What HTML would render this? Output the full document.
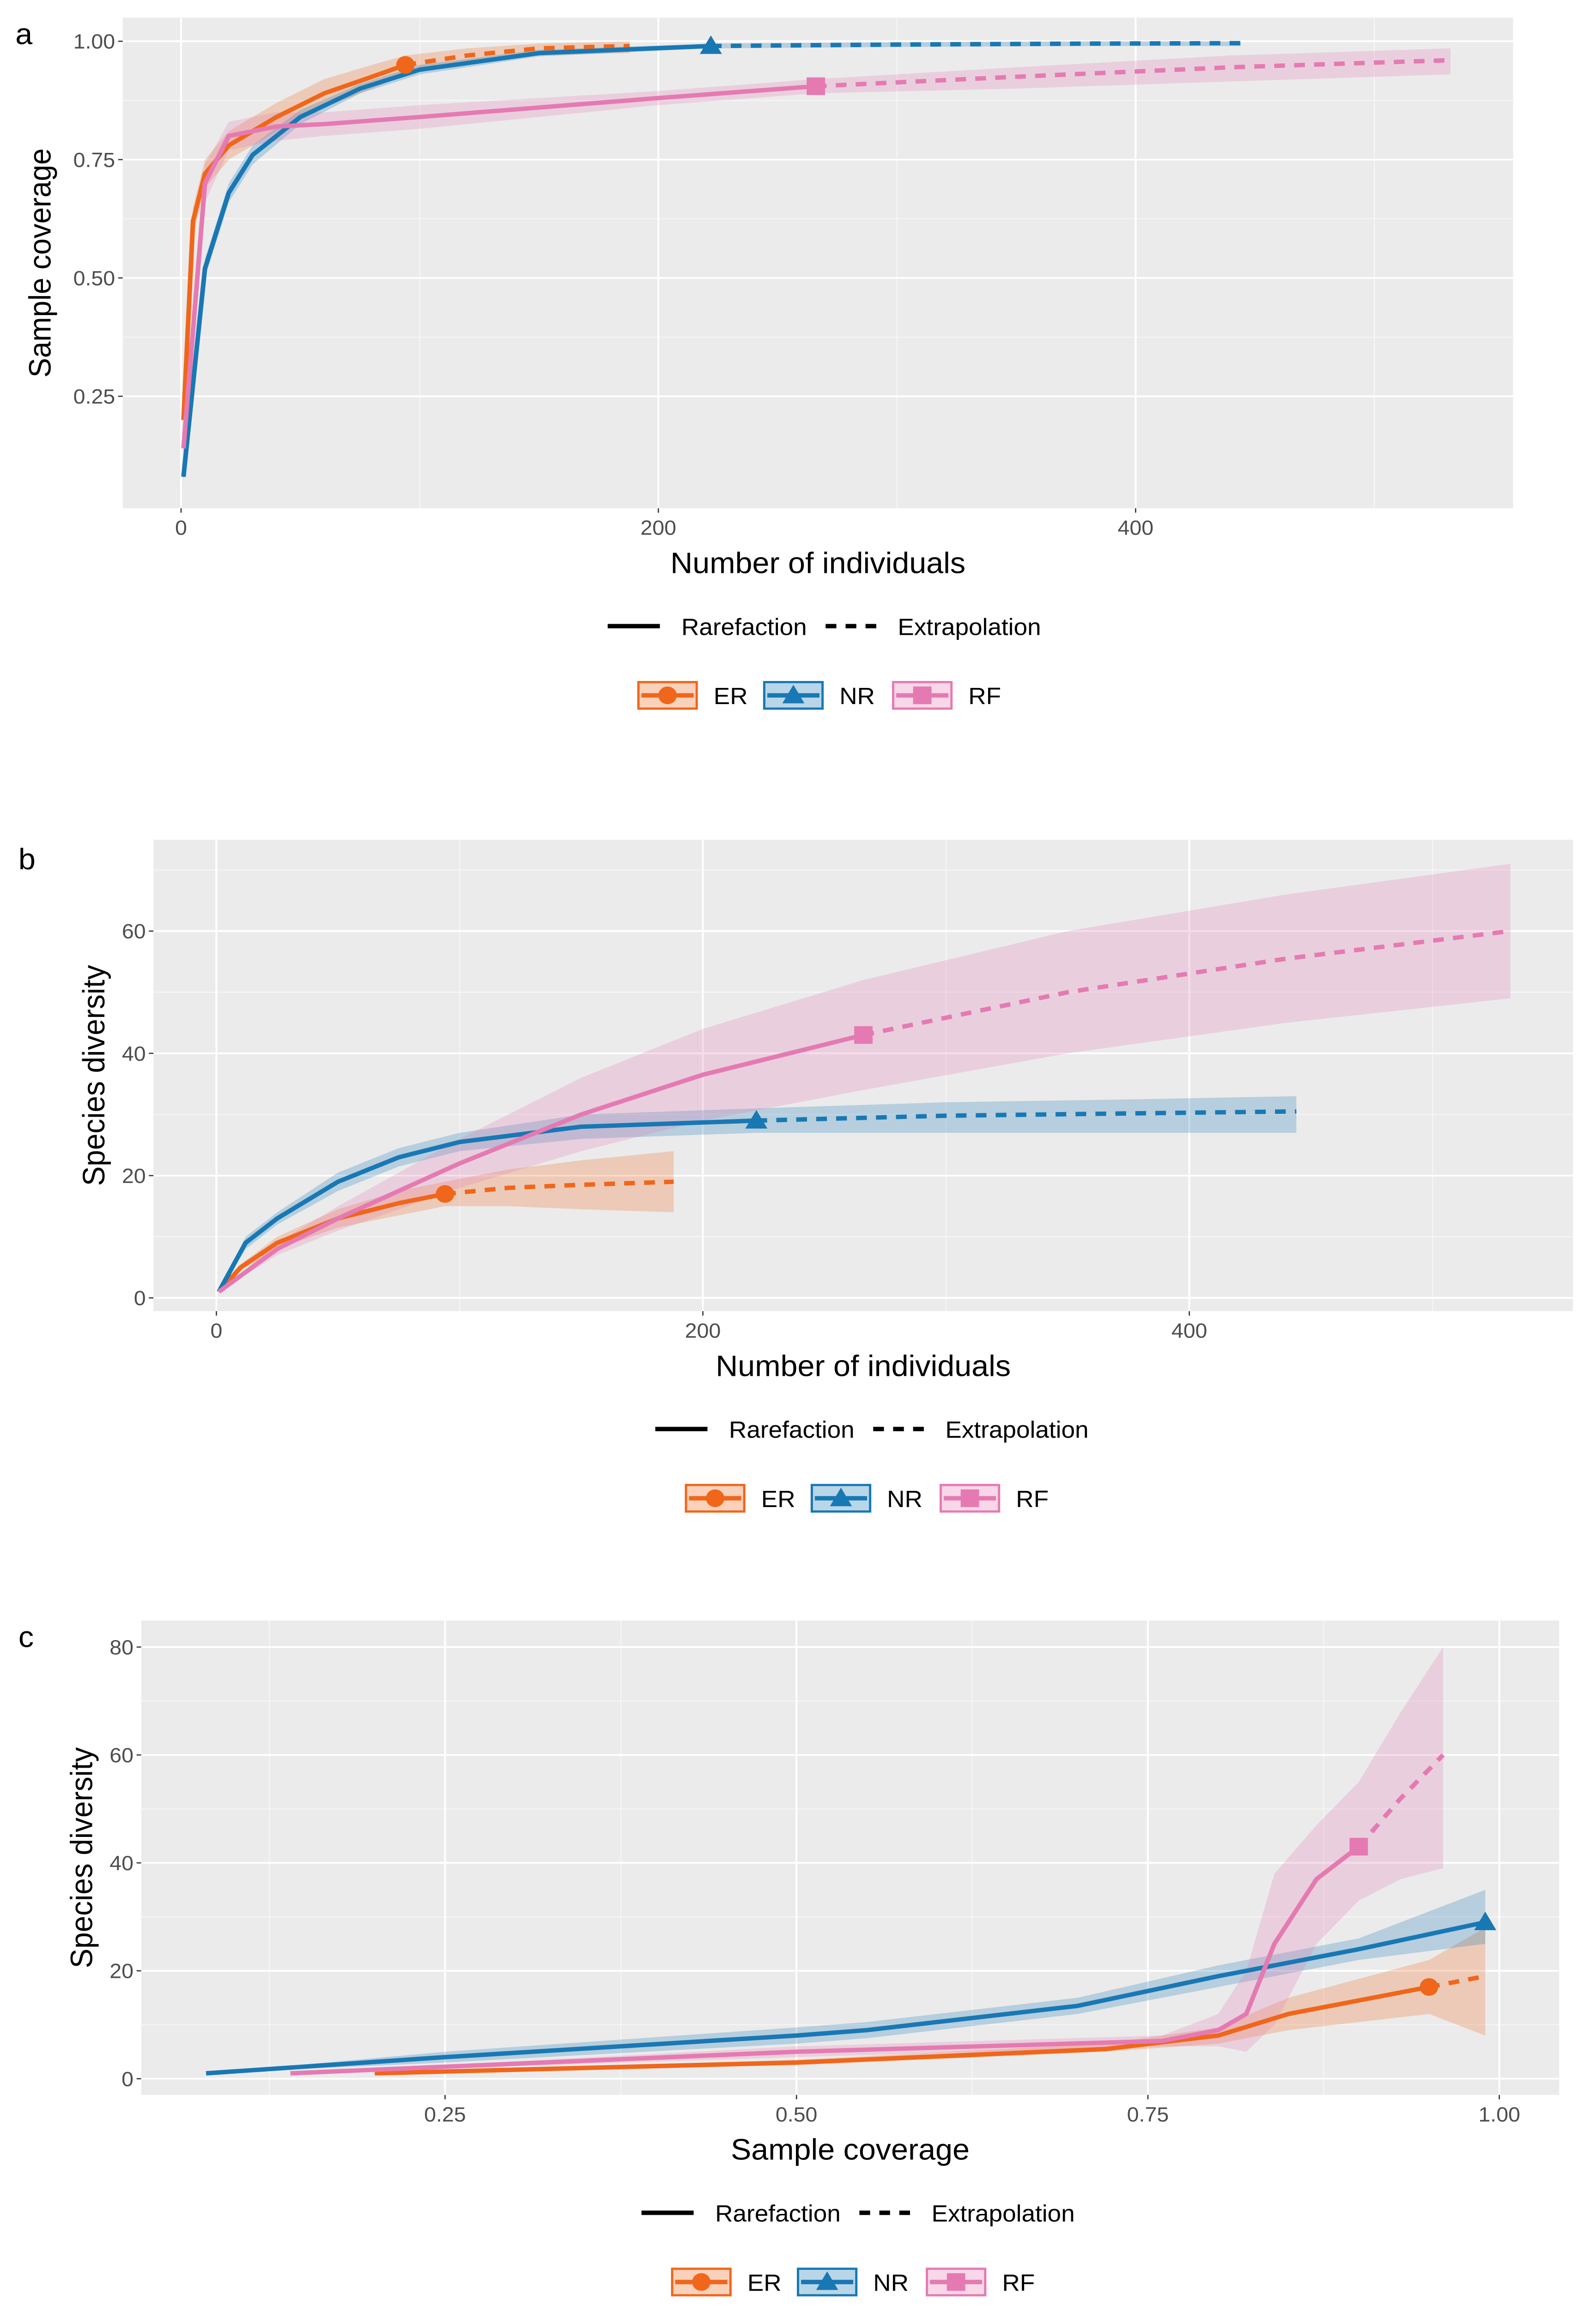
<!DOCTYPE html>
<html><head><meta charset="utf-8"><style>
html,body{margin:0;padding:0;background:#fff;width:100%;height:100%;overflow:hidden;}
svg{display:block;width:100vw;height:100vh;font-family:"Liberation Sans",Arial,sans-serif;}
</style></head><body>
<svg id="chart" viewBox="0 0 1040 1568" preserveAspectRatio="none" xmlns="http://www.w3.org/2000/svg"></svg>
<script>
// ---------- Panel a data (sample coverage vs individuals) ----------
const aTicksX = [0, 200, 400];
const aTicksY = [0.25, 0.50, 0.75, 1.00];
const aTickLabelsY = ["0.25", "0.50", "0.75", "1.00"];
const aER_x = [1,5,10,20,40,60,80,94,120,150,188];
const aER_y = [0.2,0.62,0.72,0.78,0.84,0.89,0.925,0.95,0.97,0.985,0.99];
const aER_lo = [0.19,0.59,0.69,0.75,0.81,0.86,0.9,0.93,0.95,0.97,0.975];
const aER_hi = [0.21,0.65,0.75,0.81,0.87,0.92,0.95,0.97,0.985,0.995,1.0];
const aNR_x = [1,10,20,30,50,75,100,150,222,300,380,444];
const aNR_y = [0.08,0.52,0.68,0.76,0.84,0.9,0.94,0.975,0.99,0.993,0.995,0.996];
const aNR_lo = [0.07,0.5,0.66,0.74,0.825,0.89,0.93,0.968,0.985,0.988,0.99,0.99];
const aNR_hi = [0.09,0.54,0.7,0.78,0.855,0.91,0.95,0.982,0.995,0.998,1,1];
const aRF_x = [1,10,20,40,60,100,150,200,266,350,440,532];
const aRF_y = [0.14,0.7,0.8,0.82,0.825,0.84,0.86,0.88,0.905,0.925,0.945,0.96];
const aRF_lo = [0.12,0.66,0.77,0.79,0.8,0.815,0.84,0.865,0.89,0.9,0.915,0.93];
const aRF_hi = [0.16,0.74,0.83,0.85,0.85,0.865,0.88,0.895,0.92,0.945,0.97,0.985];
const aObs = [7, 8, 8];
// ---------- Panel b data (species diversity vs individuals) ----------
const bTicksX = [0, 200, 400];
const bTicksY = [0, 20, 40, 60];
const bER_x = [1,10,25,50,75,94,120,150,188];
const bER_y = [1,5,9,13,15.5,17,18,18.5,19];
const bER_lo = [1,4.5,8,11.5,13.5,15,15,14.5,14];
const bER_hi = [1,5.5,10,14.5,17.5,19,21,22.5,24];
const bNR_x = [1,12,25,50,75,100,150,222,300,380,444];
const bNR_y = [1,9,13,19,23,25.5,28,29,29.8,30.2,30.5];
const bNR_lo = [1,8,12,17.5,21.5,24,26,27,27,27,27];
const bNR_hi = [1,10,14,20.5,24.5,27,30,31,32,32.5,33];
const bRF_x = [1,25,50,100,150,200,266,350,440,532];
const bRF_y = [1,8,13,22,30,36.5,43,50,55.5,60];
const bRF_lo = [1,7,11,18,24,29,34,40,45,49];
const bRF_hi = [1,9,15,26,36,44,52,60,66,71];
const bObs = [5, 7, 6];
// ---------- Panel c data (species diversity vs sample coverage) ----------
const cTicksX = [0.25, 0.50, 0.75, 1.00];
const cTickLabelsX = ["0.25", "0.50", "0.75", "1.00"];
const cTicksY = [0, 20, 40, 60, 80];
const cER_x = [0.2,0.5,0.72,0.8,0.85,0.95,0.97,0.99];
const cER_y = [1,3,5.5,8,12,17,18,19];
const cER_lo = [1,2.5,5,6.5,9,12,10,8];
const cER_hi = [1,3.5,6.5,9.5,15,22,25,28];
const cNR_x = [0.08,0.25,0.5,0.55,0.7,0.8,0.9,0.99];
const cNR_y = [1,4,8,9,13.5,19,24,29];
const cNR_lo = [1,3,6.5,7.5,12,17,22,25];
const cNR_hi = [1,5,9.5,10.5,15,21,26,35];
const cRF_x = [0.14,0.5,0.76,0.8,0.82,0.84,0.87,0.9,0.93,0.96];
const cRF_y = [1,5,7,9,12,25,37,43,52,60];
const cRF_lo = [1,4,6,6,5,10,25,33,37,39];
const cRF_hi = [1,6,8,12,20,38,47,55,68,80];
const cObs = [5, 7, 7];

const seriesNames = ["ER", "NR", "RF"];
const COLORS = {ER:"#F0661A", NR:"#1878B4", RF:"#E57AB2"};
const NS = "http://www.w3.org/2000/svg";
const svg = document.getElementById("chart");
function mk(tag, attrs, parent){
  const e = document.createElementNS(NS, tag);
  for (const k in attrs) e.setAttribute(k, attrs[k]);
  (parent||svg).appendChild(e);
  return e;
}
function lin(d0,d1,r0,r1){ return v => r0 + (v-d0)*(r1-r0)/(d1-d0); }

function marker(g, name, cx, cy, r){
  const c = COLORS[name];
  let m;
  if (name==="ER") m = mk("circle",{cx:cx,cy:cy,r:r,fill:c},g);
  else if (name==="NR") m = mk("polygon",{points:`${cx},${cy-r*1.2} ${cx-r*1.2},${cy+r*0.9} ${cx+r*1.2},${cy+r*0.9}`,fill:c},g);
  else m = mk("rect",{x:cx-r,y:cy-r,width:2*r,height:2*r,fill:c},g);
  return m;
}

function panel(cfg){
  const g = mk("g",{});
  
  
  const X = cfg.sx, Y = cfg.sy;
  const bg = mk("rect",{x:cfg.L,y:cfg.T,width:cfg.R-cfg.L,height:cfg.B-cfg.T,fill:"#EBEBEB"},g);
  
  
  cfg.minorX.forEach(v=>{ mk("line",{x1:X(v),x2:X(v),y1:cfg.T,y2:cfg.B,stroke:"#F7F7F7","stroke-width":0.6},g); });
  cfg.minorY.forEach(v=>{ mk("line",{x1:cfg.L,x2:cfg.R,y1:Y(v),y2:Y(v),stroke:"#F7F7F7","stroke-width":0.6},g); });
  cfg.ticksX.forEach((v,i)=>{
    mk("line",{x1:X(v),x2:X(v),y1:cfg.T,y2:cfg.B,stroke:"#fff","stroke-width":1.2},g);
    mk("line",{x1:X(v),x2:X(v),y1:cfg.B,y2:cfg.B+3,stroke:"#333","stroke-width":0.8},g);
    const t = mk("text",{x:X(v),y:cfg.B+18,"text-anchor":"middle","font-size":14,fill:"#4D4D4D"},g);
    t.textContent = cfg.labX[i];
    
    
  });
  cfg.ticksY.forEach((v,i)=>{
    mk("line",{x1:cfg.L,x2:cfg.R,y1:Y(v),y2:Y(v),stroke:"#fff","stroke-width":1.2},g);
    mk("line",{x1:cfg.L-3,x2:cfg.L,y1:Y(v),y2:Y(v),stroke:"#333","stroke-width":0.8},g);
    const t = mk("text",{x:cfg.L-5,y:Y(v)+5,"text-anchor":"end","font-size":14,fill:"#4D4D4D"},g);
    t.textContent = cfg.labY[i];
    
    
  });
  cfg.series.forEach(s=>{
    let d = s.x.map((v,i)=>`${i?"L":"M"}${X(v)},${Y(s.hi[i])}`).join(" ");
    for (let i=s.x.length-1;i>=0;i--) d += ` L${X(s.x[i])},${Y(s.lo[i])}`;
    const p = mk("path",{d:d+" Z",fill:COLORS[s.n],"fill-opacity":0.25},g);
    
    
  });
  cfg.series.forEach(s=>{
    const rare = s.x.slice(0,s.obs+1).map((v,i)=>`${X(v)},${Y(s.y[i])}`).join(" ");
    const ext = s.x.slice(s.obs).map((v,i)=>`${X(v)},${Y(s.y[i+s.obs])}`).join(" ");
    const l1 = mk("polyline",{points:rare,fill:"none",stroke:COLORS[s.n],"stroke-width":3,"stroke-linejoin":"round"},g);
    
    
    const l2 = mk("polyline",{points:ext,fill:"none",stroke:COLORS[s.n],"stroke-width":3,"stroke-dasharray":"7,6"},g);
    
    
  });
  cfg.series.forEach(s=>{
    const m = marker(g, s.n, X(s.x[s.obs]), Y(s.y[s.obs]), 6);
    
    
  });
  const xt = mk("text",{x:(cfg.L+cfg.R)/2,y:cfg.B+44,"text-anchor":"middle","font-size":20,fill:"#000"},g);
  xt.textContent = cfg.xTitle;
  
  
  const ymid = (cfg.T+cfg.B)/2;
  const yt = mk("text",{x:cfg.yTitleX,y:ymid,"text-anchor":"middle","font-size":20,fill:"#000",transform:`rotate(-90 ${cfg.yTitleX} ${ymid})`},g);
  yt.textContent = cfg.yTitle;
  
  
  const pl = mk("text",{x:cfg.letterX,y:cfg.letterY,"font-size":20,fill:"#000"},g);
  pl.textContent = cfg.letter;
  
  
  const lx = cfg.legX, ly1 = cfg.B+80, ly2 = cfg.B+127;
  const lg = mk("g",{},g);
  
  
  mk("line",{x1:lx,x2:lx+34,y1:ly1,y2:ly1,stroke:"#000","stroke-width":3},lg);
  let t = mk("text",{x:lx+48,y:ly1+6,"font-size":16},lg); t.textContent="Rarefaction";
  mk("line",{x1:lx+142,x2:lx+176,y1:ly1,y2:ly1,stroke:"#000","stroke-width":3,"stroke-dasharray":"7,6"},lg);
  t = mk("text",{x:lx+189,y:ly1+6,"font-size":16},lg); t.textContent="Extrapolation";
  const offs = [20, 102, 186];
  seriesNames.forEach((n,i)=>{
    const e = mk("g",{},g);
    
    
    const x = lx+offs[i];
    mk("rect",{x:x,y:ly2-9,width:38,height:18,fill:COLORS[n],"fill-opacity":0.3,stroke:COLORS[n],"stroke-width":1.5},e);
    mk("line",{x1:x+2,x2:x+36,y1:ly2,y2:ly2,stroke:COLORS[n],"stroke-width":3},e);
    marker(e, n, x+19, ly2, 6);
    const tt = mk("text",{x:x+49,y:ly2+6,"font-size":16},e); tt.textContent = n;
  });
}

function mkSeries(names, xs, ys, los, his, obs){
  return names.map((n,i)=>({n:n,x:xs[i],y:ys[i],lo:los[i],hi:his[i],obs:obs[i]}));
}

panel({name:"panel-a-coverage", L:80,R:986,T:12,B:345,
  sx:lin(0,400,118,740), sy:lin(0.25,1,269,28),
  ticksX:aTicksX, labX:aTicksX.map(String), ticksY:aTicksY, labY:aTickLabelsY,
  minorX:[100,300,500], minorY:[0.375,0.625,0.875],
  series:mkSeries(seriesNames,[aER_x,aNR_x,aRF_x],[aER_y,aNR_y,aRF_y],[aER_lo,aNR_lo,aRF_lo],[aER_hi,aNR_hi,aRF_hi],aObs),
  xTitle:"Number of individuals", yTitle:"Sample coverage", yTitleX:33,
  letter:"a", letterX:10, letterY:30, legX:396});

panel({name:"panel-b-diversity", L:100,R:1025,T:570,B:890,
  sx:lin(0,400,141,775), sy:lin(0,60,881,632),
  ticksX:bTicksX, labX:bTicksX.map(String), ticksY:bTicksY, labY:bTicksY.map(String),
  minorX:[100,300,500], minorY:[10,30,50,70],
  series:mkSeries(seriesNames,[bER_x,bNR_x,bRF_x],[bER_y,bNR_y,bRF_y],[bER_lo,bNR_lo,bRF_lo],[bER_hi,bNR_hi,bRF_hi],bObs),
  xTitle:"Number of individuals", yTitle:"Species diversity", yTitleX:68,
  letter:"b", letterX:12, letterY:590, legX:427});

panel({name:"panel-c-coverage-diversity", L:92,R:1016,T:1100,B:1422,
  sx:lin(0.25,1,290,977), sy:lin(0,80,1411,1118),
  ticksX:cTicksX, labX:cTickLabelsX, ticksY:cTicksY, labY:cTicksY.map(String),
  minorX:[0.125,0.375,0.625,0.875], minorY:[10,30,50,70],
  series:mkSeries(seriesNames,[cER_x,cNR_x,cRF_x],[cER_y,cNR_y,cRF_y],[cER_lo,cNR_lo,cRF_lo],[cER_hi,cNR_hi,cRF_hi],cObs),
  xTitle:"Sample coverage", yTitle:"Species diversity", yTitleX:60,
  letter:"c", letterX:12, letterY:1118, legX:418});
</script>
</body></html>
